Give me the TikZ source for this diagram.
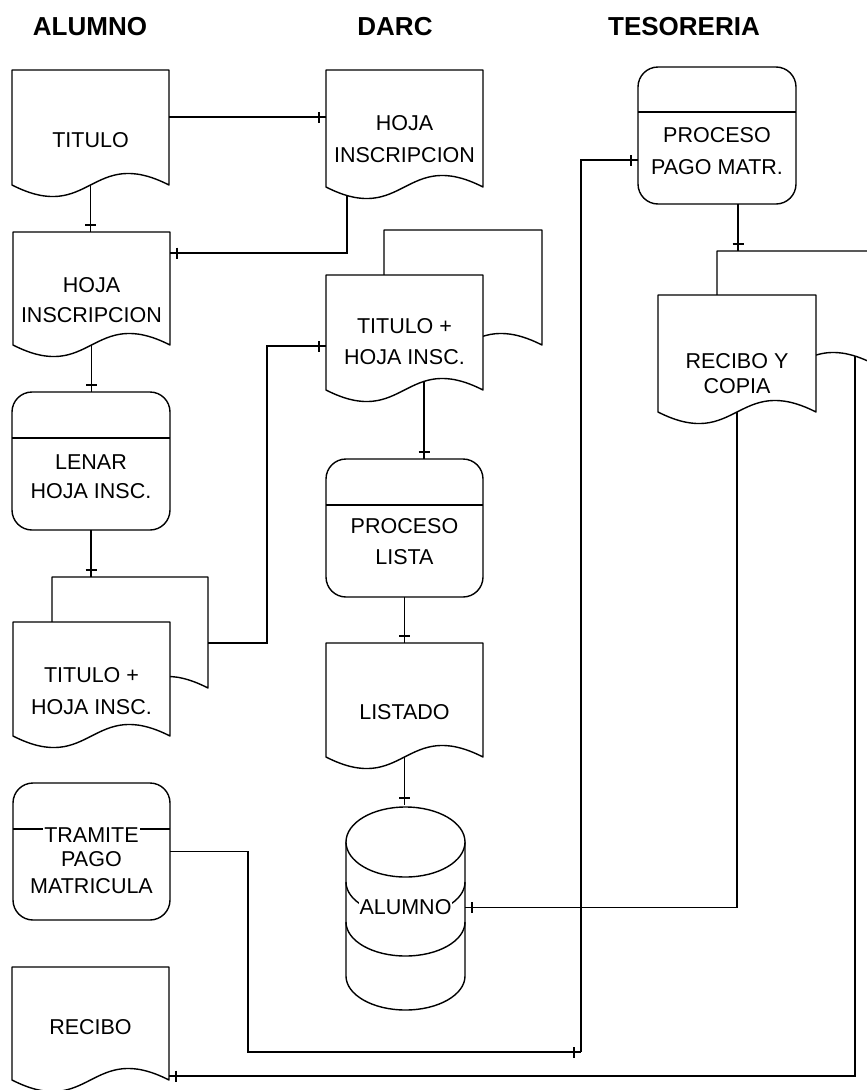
\documentclass[tikz,border=0pt]{standalone}
\usepackage{fontspec}
\setmainfont{Liberation Sans}
\usetikzlibrary{calc,decorations.markings}

\newcommand\mkbox[5]{\node[box, minimum width={(#4-#2)*1pt}, minimum height={(#5-#3)*1pt}] (#1) at (#2,#3) {};}
\newcommand\docshape[1]{\path[shp] (#1.north west) -- (#1.north east) -- (#1.south east) .. controls ($(#1.south)+(0,-40)$) and ($(#1.south)+(0,40)$) .. (#1.south west) -- cycle;}
\newcommand\procshape[2]{\path[shp, rounded corners=20pt] (#1.north west) rectangle (#1.south east);
  \draw[shp] ($(#1.north west)+(0,#2)$) -- ($(#1.north east)+(0,#2)$);}
\newcommand\cylarc[1]{(346,#1) .. controls (346,{#1+18.8}) and (372.7,{#1+34}) .. (405.5,{#1+34}) .. controls (438.3,{#1+34}) and (465,{#1+18.8}) .. (465,#1)}

\begin{document}
\begin{tikzpicture}[x=1pt,y=-1pt,
  shp/.style={draw=black, line width=1.4pt, fill=white, line join=round},
  box/.style={inner sep=0pt, outer sep=0pt, anchor=north west},
  txt/.style={font=\fontsize{21.5}{#1}\selectfont, align=center, inner sep=1pt},
  txt/.default=30,
  hdr/.style={font=\fontsize{26}{30}\selectfont\bfseries, inner sep=0pt},
  con/.style={draw=black, line width=1.3pt},
  tk/.style={postaction={decorate, decoration={markings, mark=at position -7pt with {\draw[line width=1.3pt] (0pt,-5.5pt) -- (0pt,5.5pt);}}}},
]
\clip (0,0) rectangle (867,1090);
\fill[white] (0,0) rectangle (867,1090);

% headers
\node[hdr] (h1) at (90,27) {ALUMNO};
\node[hdr] (h2) at (395,27) {DARC};
\node[hdr] (h3) at (684,27) {TESORERIA};

% ALUMNO column
\mkbox{ti}{12}{70}{169}{185}
\mkbox{ha}{13}{232}{170}{345}
\mkbox{le}{12}{392}{170}{530}
\mkbox{asb}{52}{577}{208}{688}
\mkbox{as}{13}{622}{170}{736}
\mkbox{tr}{13}{783}{170}{920}
\mkbox{rec}{12}{967}{169}{1080}
% DARC column
\mkbox{hd}{326}{70}{483}{187}
\mkbox{dsb}{384}{230}{542}{345}
\mkbox{ds}{326}{275}{483}{390}
\mkbox{pl}{326}{459}{483}{597}
\mkbox{li}{326}{643}{483}{757}
\mkbox{db}{346}{805}{465}{1010}
% TESORERIA column
\mkbox{pp}{638}{67}{796}{204}
\mkbox{rycb}{717}{251}{874}{364}
\mkbox{ryc}{658}{295}{816}{412}

% shapes
\docshape{ti}
\docshape{ha}
\procshape{le}{46}
\docshape{asb}
\docshape{as}
\procshape{tr}{46}
\docshape{rec}
\docshape{hd}
\docshape{dsb}
\docshape{ds}
\procshape{pl}{46}
\docshape{li}
\procshape{pp}{45}
\docshape{rycb}
\docshape{ryc}
% cylinder
\path[shp] (346,842) -- \cylarc{976} -- (465,842) -- cycle;
\path[shp] (405.5,842) ellipse [x radius=59.5, y radius=35];
\draw[shp, fill=none] \cylarc{882};
\draw[shp, fill=none] \cylarc{922};

% texts
\node[txt] (ti-t) at (90.5,140) {TITULO};
\node[txt] (ha-t) at (91.5,300) {HOJA\\INSCRIPCION};
\node[txt=29] (le-t) at (91,477) {LENAR\\HOJA INSC.};
\node[txt=32] (as-t) at (91.5,691) {TITULO +\\HOJA INSC.};
\node[txt, fill=white] (tr-t1) at (91.5,835) {TRAMITE};
\node[txt=27] (tr-t2) at (91.5,873) {PAGO\\MATRICULA};
\node[txt] (rec-t) at (90.5,1027) {RECIBO};
\node[txt=32] (hd-t) at (404.5,139) {HOJA\\INSCRIPCION};
\node[txt=31] (ds-t) at (404.5,342) {TITULO +\\HOJA INSC.};
\node[txt=31] (pl-t) at (404.5,542) {PROCESO\\LISTA};
\node[txt] (li-t) at (404.5,712) {LISTADO};
\node[txt, fill=white, inner xsep=1pt, inner ysep=5pt] (db-t) at (405.5,907) {ALUMNO};
\node[txt=32] (pp-t) at (717,151) {PROCESO\\PAGO MATR.};
\node[txt=25] (ryc-t) at (737,374) {RECIBO Y\\COPIA};

% connectors
\coordinate (c1) at ($(ti.east)+(0,-10.5)$);
\draw[con,tk] (c1) -- (c1 -| hd.west);
\coordinate (c2) at (347,195);
\coordinate (c2b) at ($(ha.north east)+(0,21)$);
\draw[con,tk] (c2) |- (c2b);
\draw[con,tk] (ti.south) -- (ti.south |- ha.north);
\draw[con,tk] (ha.south) -- (ha.south |- le.north);
\draw[con,tk] (le.south) -- (le.south |- asb.north);
\coordinate (c6) at ($(asb.east)+(0,10.5)$);
\coordinate (c6b) at ($(ds.west)+(0,13.5)$);
\draw[con,tk] (c6) -| ($(c6b)+(-59,0)$) -- (c6b);
\coordinate (c7) at (424,381);
\draw[con,tk] (c7) -- (c7 |- pl.north);
\draw[con,tk] (pl.south) -- (pl.south |- li.north);
\draw[con,tk] (li.south) -- (li.south |- db.north);
\coordinate (j) at (581,1052);
\draw[con,tk] (tr.east) -| (248,1052) -- (j);
\coordinate (c10) at ($(pp.west)+(0,24.5)$);
\draw[con,tk] (j) |- (c10);
\coordinate (c11) at ($(pp.south)+(21,0)$);
\draw[con,tk] (c11) -- (c11 |- rycb.north);
\draw[con,tk] (ryc.south) |- (db.east);
\coordinate (c13) at (855,356);
\coordinate (c13b) at ($(rec.south east)+(0,-4)$);
\draw[con,tk] (c13) |- (c13b);
\end{tikzpicture}
\end{document}
